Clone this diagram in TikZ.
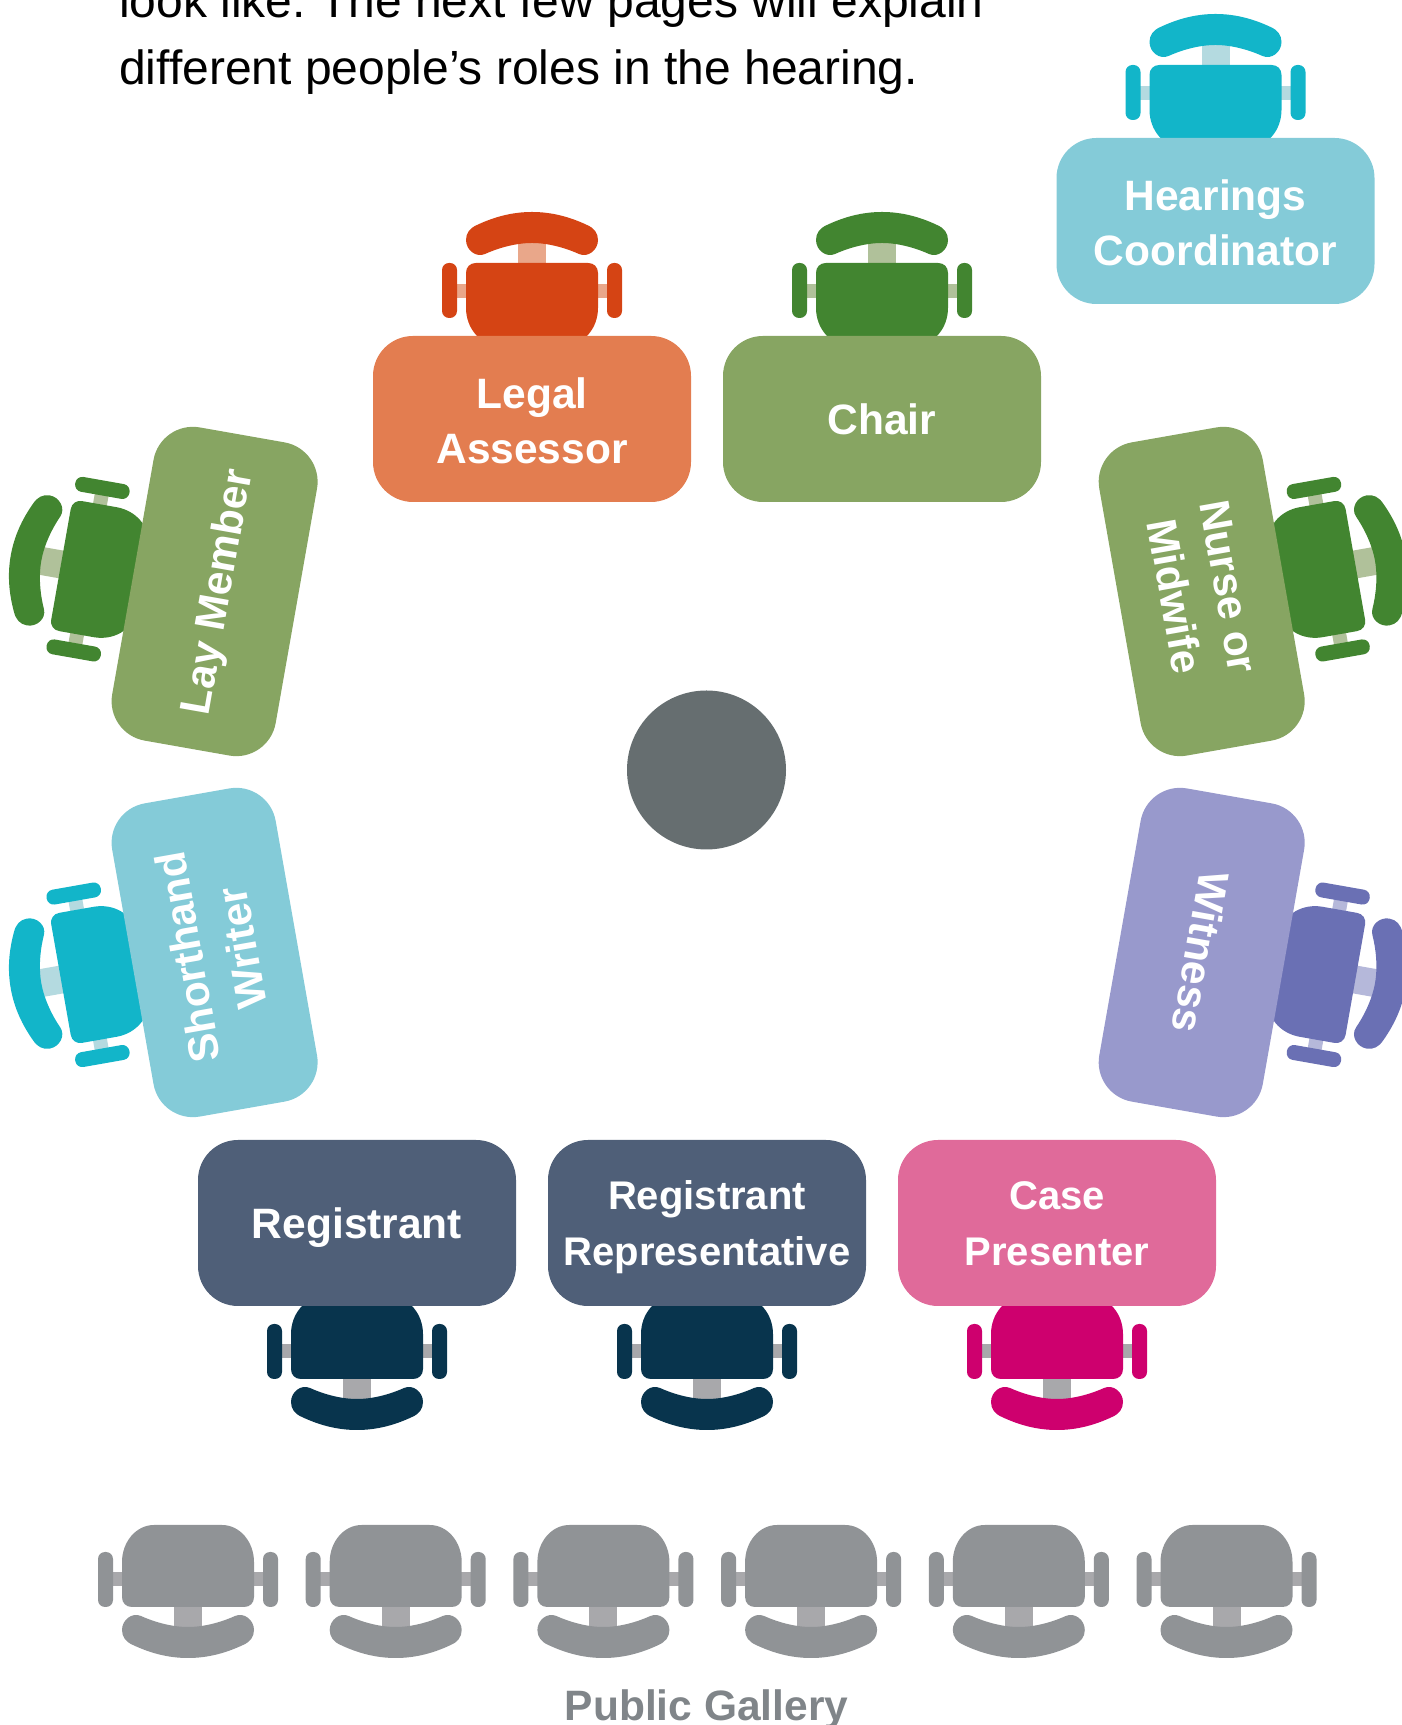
\documentclass[tikz,border=0pt]{standalone}
\usepackage{fontspec}
\setmainfont{Liberation Sans}
\usetikzlibrary{positioning,backgrounds}

\definecolor{orangedesk}{HTML}{E37D50}
\definecolor{orangechair}{HTML}{D54414}
\definecolor{orangelink}{HTML}{E9A78A}
\definecolor{greendesk}{HTML}{87A562}
\definecolor{greenchair}{HTML}{428530}
\definecolor{greenlink}{HTML}{B0C19A}
\definecolor{bluedesk}{HTML}{84CBD8}
\definecolor{bluechair}{HTML}{12B5C9}
\definecolor{bluelink}{HTML}{B4DAE0}
\definecolor{purpledesk}{HTML}{9899CC}
\definecolor{purplechair}{HTML}{6A70B4}
\definecolor{purplelink}{HTML}{B5B8DA}
\definecolor{navydesk}{HTML}{4F5F78}
\definecolor{navychair}{HTML}{08344D}
\definecolor{pinkdesk}{HTML}{E06A9A}
\definecolor{pinkchair}{HTML}{CE006E}
\definecolor{greychair}{HTML}{909396}
\definecolor{greylink}{HTML}{A8A8AB}
\definecolor{hubgrey}{HTML}{666E70}
\definecolor{gallerytext}{HTML}{808589}

\tikzset{
  pics/chair/.style 2 args={code={
    % links first, the seat goes over them
    \fill[#2] (-76,38) rectangle (76,52);
    \fill[#2] (-14,60) rectangle (14,96);
    \fill[#1, rounded corners=7pt] (-90,18) rectangle (-75,73);
    \fill[#1, rounded corners=7pt] (75,18) rectangle (90,73);
    \fill[#1] (-56,73) -- (56,73) .. controls (62,73) and (66,69) .. (66,63) -- (66,28)
      .. controls (66,8) and (52,-9) .. (34,-9) -- (-34,-9)
      .. controls (-52,-9) and (-66,8) .. (-66,28) -- (-66,63)
      .. controls (-66,69) and (-62,73) .. (-56,73) -- cycle;
    % backrest
    \fill[#1] (0,93) .. controls (-18,93) and (-36,87) .. (-47,82)
      .. controls (-56,78) and (-66,86) .. (-66,96)
      .. controls (-66,103) and (-62,108) .. (-55,111)
      .. controls (-38,119) and (-20,124) .. (0,124)
      .. controls (20,124) and (38,119) .. (55,111)
      .. controls (62,108) and (66,103) .. (66,96)
      .. controls (66,86) and (56,78) .. (47,82)
      .. controls (36,87) and (18,93) .. (0,93) -- cycle;
  }}
}

\begin{document}
\frenchspacing
\begin{tikzpicture}[
  x=1pt, y=1pt,
  node distance=32pt and 32pt,
  desk/.style={rectangle, rounded corners=40pt, minimum width=318pt, minimum height=166pt, inner sep=0pt, outer sep=0pt, align=center, text=white, font=\fontsize{42.5}{55}\selectfont\bfseries},
  oneline/.style={text height=32pt, text depth=0pt},
  twolines/.style={text height=90pt, text depth=0pt},
  smaller/.style={text height=85pt, text depth=0pt, font=\fontsize{40}{55.5}\selectfont\bfseries},
  intro/.style={anchor=base west, inner sep=0pt, font=\fontsize{48}{56}\selectfont}
]
\useasboundingbox (0,0) rectangle (1402,1725);

% Text above the room, cut by the page
\node[intro] (intro-1) at (119,1707) {look like. The next few pages will explain};
\node[intro] (intro-2) at (119,1640) {different people’s roles in the hearing.};

% Centre of the room
\node[circle, fill=hubgrey, minimum size=159pt, inner sep=0pt] (hub) at (706.5,955) {};

% Top row
\node[desk, twolines, fill=orangedesk] (legal) at (532,1306) {Legal\\Assessor};
\node[desk, oneline, fill=greendesk, right=of legal] (chairperson) {Chair};
\node[desk, twolines, fill=bluedesk] (coordinator) at (1215.5,1504) {Hearings\\Coordinator};

% Tilted desks
\node[desk, oneline, fill=greendesk, rotate=80] (lay) at (214.6,1133.5) {Lay Member};
\node[desk, fill=greendesk, rotate=-80] (nurse) at (1201.7,1133.5) {Nurse or\\Midwife};
\node[desk, fill=bluedesk, rotate=100] (shorthand) at (214.6,772.5) {Shorthand\\Writer};
\node[desk, oneline, fill=purpledesk, rotate=-100] (witness) at (1201.7,772.5) {Witness};

% Bottom row
\node[desk, smaller, fill=navydesk] (representative) at (707,502) {Registrant\\Representative};
\node[desk, oneline, fill=navydesk, left=of representative] (registrant) {Registrant};
\node[desk, smaller, fill=pinkdesk, right=of representative] (presenter) {Case\\Presenter};

\node[inner sep=0pt, anchor=base, text=gallerytext, font=\fontsize{42.5}{48}\selectfont\bfseries] (gallery) at (706.5,5) {Public Gallery};

% Chairs go behind the desks
\begin{scope}[on background layer]
\pic at (legal.north) {chair={orangechair}{orangelink}};
\pic at (chairperson.north) {chair={greenchair}{greenlink}};
\pic at (coordinator.north) {chair={bluechair}{bluelink}};
\pic[rotate=80] at (lay.north) {chair={greenchair}{greenlink}};
\pic[rotate=-80] at (nurse.north) {chair={greenchair}{greenlink}};
\pic[rotate=100] at (shorthand.north) {chair={bluechair}{bluelink}};
\pic[rotate=-100] at (witness.north) {chair={purplechair}{purplelink}};
\pic[rotate=180] at (registrant.south) {chair={navychair}{greylink}};
\pic[rotate=180] at (representative.south) {chair={navychair}{greylink}};
\pic[rotate=180] at (presenter.south) {chair={pinkchair}{greylink}};

% Public gallery
\foreach \i in {0,...,5}
  \pic[rotate=180] at (188+207.7*\i,191) {chair={greychair}{greylink}};
\end{scope}

\end{tikzpicture}
\end{document}
